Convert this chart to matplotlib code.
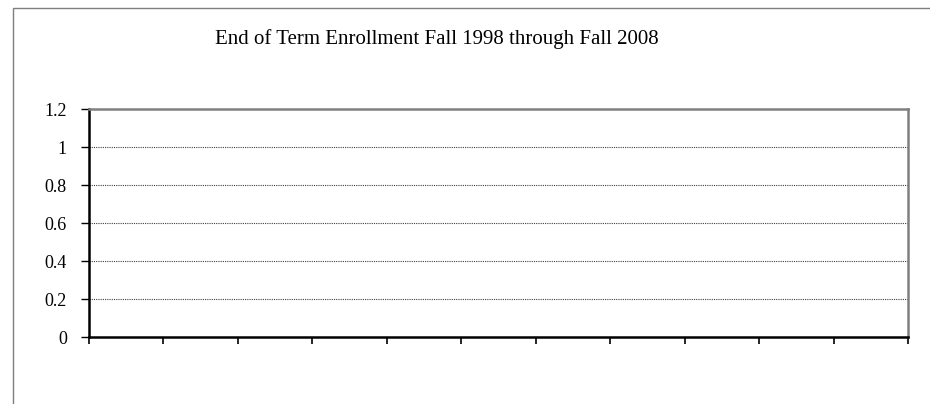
import matplotlib
matplotlib.use("Agg")
import matplotlib.pyplot as plt
from matplotlib.patches import Rectangle

# chart data (the chart has no plotted values, only the category slots)
title = "End of Term Enrollment Fall 1998 through Fall 2008"
categories = ["Fall 1998", "Fall 1999", "Fall 2000", "Fall 2001", "Fall 2002", "Fall 2003",
              "Fall 2004", "Fall 2005", "Fall 2006", "Fall 2007", "Fall 2008"]
yticks = [0, 0.2, 0.4, 0.6, 0.8, 1, 1.2]
ytick_labels = ["0", "0.2", "0.4", "0.6", "0.8", "1", "1.2"]

plt.rcParams['font.family'] = ['Liberation Serif', 'DejaVu Serif']

fig = plt.figure(figsize=(9.3, 4.04), dpi=100)

# outer chart border (cropped on right and bottom in the source)
fig.patches.append(Rectangle((13/930, -0.5), 2.0, 1.5 - 8/404, transform=fig.transFigure,
                             fill=False, edgecolor='#7f7f7f', linewidth=1.0))

ax = fig.add_axes([89/930, 1 - 337/404, (908 - 89)/930, (337 - 109)/404])
n = len(categories)
ax.set_xlim(0, n)
ax.set_ylim(0, 1.2)

ax.set_xticks(range(n + 1))
ax.set_xticklabels([])
ax.set_yticks(yticks)
ax.set_yticklabels(ytick_labels, fontsize=13)
ax.tick_params(axis='x', direction='out', length=5, width=1.2, color='black')
ax.tick_params(axis='y', direction='out', length=6, width=1.0, color='black', pad=10)

for v in yticks[1:-1]:
    ax.axhline(v, color='#404040', linewidth=0.8, linestyle=(0, (1, 1)))

ax.spines['left'].set_color('black')
ax.spines['left'].set_linewidth(1.8)
ax.spines['bottom'].set_color('black')
ax.spines['bottom'].set_linewidth(1.8)
ax.spines['top'].set_color('#808080')
ax.spines['top'].set_linewidth(1.8)
ax.spines['right'].set_color('#808080')
ax.spines['right'].set_linewidth(1.8)

fig.text(437/930, 1 - 39/404, title, ha='center', va='center', fontsize=15)

fig.savefig("out.png", dpi=100)
